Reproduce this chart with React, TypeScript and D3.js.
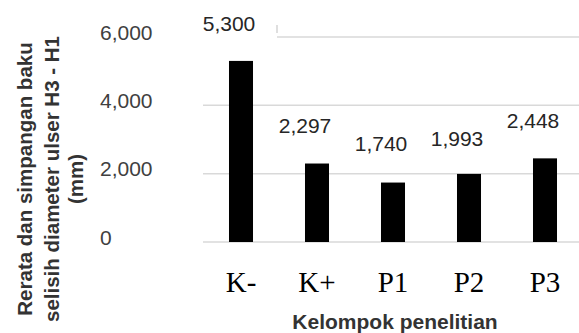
import React from "react";
import * as d3 from "d3";

const categories = ["K-", "K+", "P1", "P2", "P3"];
const means = [5300, 2297, 1740, 1993, 2448];
const sds = [760, 790, 800, 690, 780];
const yTicks = [0, 2000, 4000, 6000];
const yTitleLines = ["Rerata dan simpangan baku", "selisih diameter ulser H3 - H1", "(mm)"];
const xTitle = "Kelompok penelitian";

const W = 579;
const H = 333;
const fmt = d3.format(",");

export default function App() {
  const x = d3.scaleBand<string>().domain(categories).range([203, 583]).paddingInner(0.684).paddingOuter(0.342);
  const y = d3.scaleLinear().domain([0, 6000]).range([242, 37]);
  const sans = "'Liberation Sans', Arial, sans-serif";
  const titleX = [24, 51, 75];
  return (
    <svg width={W} height={H} style={{ position: "fixed", left: 0, top: 0, background: "#fff" }}>
      {yTicks.map((t) => (
        <line key={t} x1={203} x2={W} y1={y(t)} y2={y(t)} stroke="#d9d9d9" strokeWidth={1.5} />
      ))}
      {yTicks.map((t) => (
        <text key={"l" + t} x={100} y={y(t) - 5} dominantBaseline="central" fontFamily={sans} fontSize={21} fill="#404040">
          {fmt(t)}
        </text>
      ))}
      {categories.map((c, i) => (
        <rect key={c} x={x(c)} y={y(means[i])} width={x.bandwidth()} height={y(0) - y(means[i])} fill="#000" />
      ))}
      {categories.map((c, i) => {
        const cx = (x(c) as number) + x.bandwidth() / 2 - 12;
        const ty = y(means[i] + sds[i]) - 4;
        return (
          <g key={"d" + c}>
            {i === 0 && <rect x={200} y={ty - 19} width={77} height={27} fill="#fff" />}
            <text x={cx} y={ty} textAnchor="middle" fontFamily={sans} fontSize={21} fill="#262626">
              {fmt(means[i])}
            </text>
          </g>
        );
      })}
      <line x1={277} x2={277} y1={25} y2={33} stroke="#bfbfbf" strokeWidth={1} />
      {categories.map((c) => (
        <text key={"c" + c} x={(x(c) as number) + x.bandwidth() / 2} y={282} textAnchor="middle" dominantBaseline="central" fontFamily="'Liberation Serif', 'Times New Roman', serif" fontSize={29} fill="#000">
          {c}
        </text>
      ))}
      {yTitleLines.map((l, i) => (
        <text key={"t" + i} transform={`translate(${titleX[i]},179) rotate(-90)`} textAnchor="middle" dominantBaseline="central" fontFamily={sans} fontWeight="bold" fontSize={20.5} fill="#333">
          {l}
        </text>
      ))}
      <text x={395} y={329} textAnchor="middle" fontFamily={sans} fontWeight="bold" fontSize={21} fill="#333">
        {xTitle}
      </text>
    </svg>
  );
}
